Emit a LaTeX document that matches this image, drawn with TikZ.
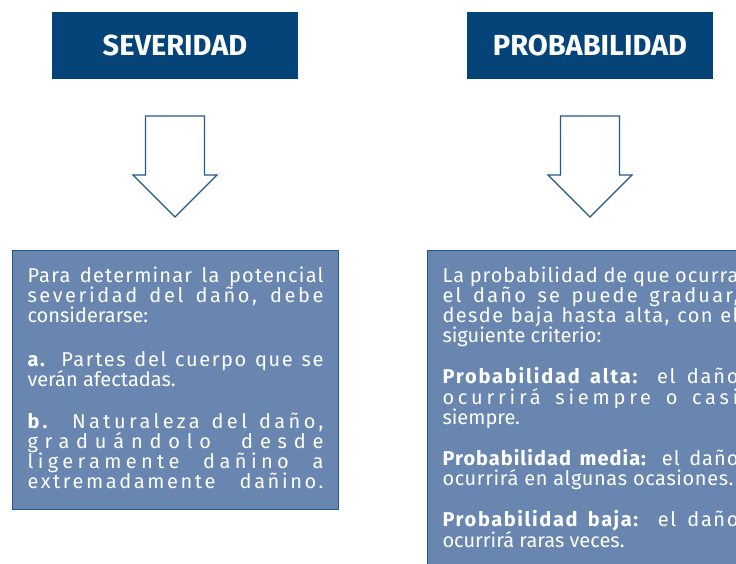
\documentclass[tikz,border=0pt]{standalone}
\usepackage{fontspec}
\setmainfont{Fira Sans}
\definecolor{headblue}{RGB}{4,68,120}
\definecolor{boxblue}{RGB}{104,134,176}
\definecolor{lineblue}{RGB}{36,88,140}
\newcommand{\spaced}[2]{{\addfontfeature{LetterSpace=#1}#2}}
\begin{document}
\begin{tikzpicture}[x=1pt,y=-1pt,
  head/.style={fill=headblue,text=white,font=\fontsize{29}{32}\selectfont\bfseries,minimum width=246pt,minimum height=67pt,inner sep=0pt},
  textbox/.style={fill=boxblue,draw=lineblue,line width=1pt,text=white,anchor=north west,text width=296pt,inner xsep=15pt,inner ysep=16pt,align=justify,font={\fontsize{20}{20.2}\selectfont\lineskiplimit=-20pt\hyphenpenalty=10000}},
  blockarrow/.style={draw=lineblue,fill=white,line width=1.1pt}]
\useasboundingbox (0,0) rectangle (736,564);
\clip (0,0) rectangle (736,564);
\node[head] (sev) at (175,45.5) {SEVERIDAD};
\node[head] (prob) at (590,45.5) {PROBABILIDAD};
\foreach \x in {175,590}
  \draw[blockarrow] (\x-29.5,116) -- (\x+29.5,116) -- (\x+29.5,175) -- (\x+42,175) -- (\x,217) -- (\x-42,175) -- (\x-29.5,175) -- cycle;
\node[textbox] (sevtext) at (12,250) {\spaced{6}{Para determinar la potencial}\linebreak
\spaced{13}{severidad del daño, debe}\linebreak
considerarse:\par\vspace{24pt}
\spaced{8}{\textbf{a.} Partes del cuerpo que se}\linebreak
verán afectadas.\par\vspace{21pt}
\spaced{17}{\textbf{b.} Naturaleza del daño,}\linebreak
\spaced{34}{graduándolo desde}\linebreak
\spaced{22}{ligeramente dañino a}\linebreak
\spaced{13}{extremadamente\hspace{\stretch{1}}dañino.}\par\vspace{5pt}};
\node[textbox] (probtext) at (427,250) {\spaced{5}{La probabilidad de que ocurra}\linebreak
\spaced{11}{el daño se puede graduar,}\linebreak
\spaced{7}{desde baja hasta alta, con el}\linebreak
siguiente criterio:\par\vspace{21pt}
\spaced{9}{\textbf{Probabilidad alta:} el daño}\linebreak
\spaced{19}{ocurrirá siempre o casi}\linebreak
siempre.\par\vspace{21pt}
\spaced{5}{\textbf{Probabilidad media:} el daño}\linebreak
\spaced{3}{ocurrirá en algunas ocasiones.}\par\vspace{21pt}
\spaced{8}{\textbf{Probabilidad baja:} el daño}\linebreak
ocurrirá raras veces.\par\vspace{6pt}};
\end{tikzpicture}
\end{document}
